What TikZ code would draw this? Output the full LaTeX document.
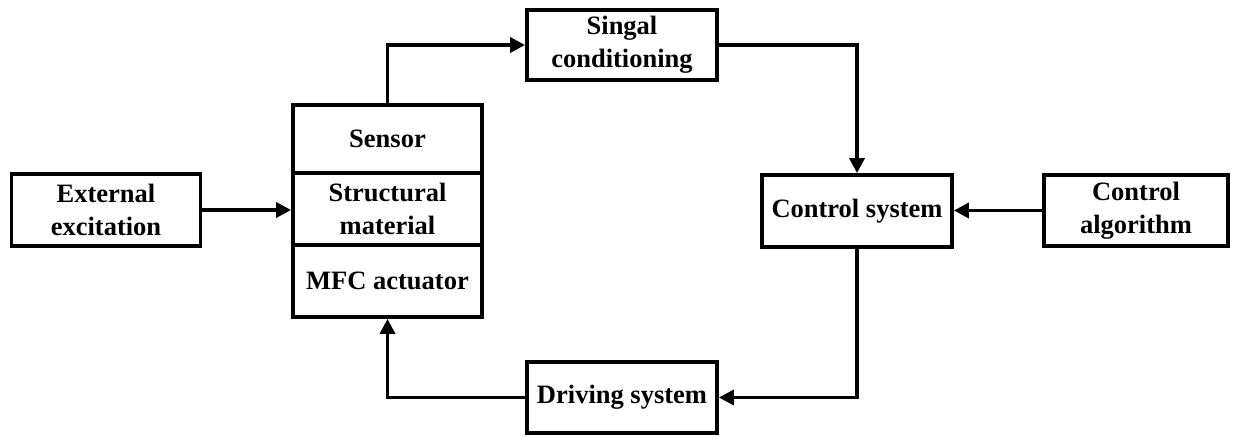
\documentclass[tikz,border=0pt]{standalone}
\usepackage{fontspec}
\setmainfont{Liberation Serif}
\usetikzlibrary{arrows.meta}
\tikzset{
  blk/.style={draw=black, line width=3.8pt, fill=white, inner sep=0pt, align=center,
    font=\fontsize{26.5}{33}\selectfont\bfseries},
  conn/.style={line width=3.5pt, -{Triangle[length=15pt,width=15pt]}},
}
\begin{document}
\begin{tikzpicture}[x=1pt,y=-1pt]
\useasboundingbox (0,0) rectangle (1234,437);
\node[blk, minimum width=189pt, minimum height=72pt] (ext) at (106,210) {External\\excitation};
\node[blk, minimum width=189pt, minimum height=68pt] (sensor) at (387.5,139) {Sensor};
\node[blk, minimum width=189pt, minimum height=72pt] (struct) at (387.5,209) {Structural\\material};
\node[blk, minimum width=189pt, minimum height=72pt] (mfc) at (387.5,281) {MFC actuator};
\node[blk, minimum width=190pt, minimum height=70pt] (sig) at (622,45) {Singal\\conditioning};
\node[blk, minimum width=190pt, minimum height=72pt] (ctrl) at (857,211) {Control system};
\node[blk, minimum width=184pt, minimum height=71pt] (alg) at (1136,210.5) {Control\\algorithm};
\node[blk, minimum width=190pt, minimum height=71pt] (drv) at (622,397.5) {Driving system};
\draw[conn] (ext.east) -- (ext.east -| struct.west);
\draw[conn] (sensor.north) |- (sig.west);
\draw[conn] (sig.east) -| (ctrl.north);
\draw[conn] (alg.west) -- (alg.west -| ctrl.east);
\draw[conn] (ctrl.south) |- (drv.east);
\draw[conn] (drv.west) -| (mfc.south);
\end{tikzpicture}
\end{document}
